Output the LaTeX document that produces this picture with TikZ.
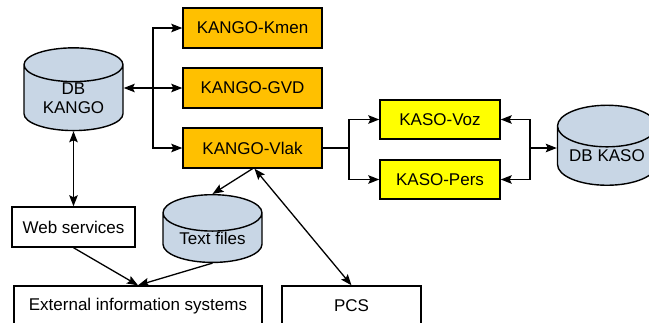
\documentclass[tikz,border=0pt]{standalone}
\usepackage{fontspec}
\setmainfont{Liberation Sans}
\usetikzlibrary{arrows.meta,shapes.geometric,positioning}
\definecolor{kangoorange}{RGB}{255,192,0}
\definecolor{kasoyellow}{RGB}{255,255,0}
\definecolor{dbblue}{RGB}{200,214,229}

\begin{document}
\begin{tikzpicture}
[x=1pt, y=-1pt, line width=1.3pt, font=\fontsize{17}{19.5}\selectfont,
>={Stealth[length=11pt,width=8.5pt,inset=2pt]},
kango/.style={rectangle, draw, fill=kangoorange, line width=1.4pt, inner sep=0pt, minimum width=139pt, minimum height=40pt},
kaso/.style={rectangle, draw, fill=kasoyellow, line width=1.4pt, inner sep=0pt, minimum width=120pt, minimum height=39pt},
plain/.style={rectangle, draw, fill=white, line width=1.4pt, inner sep=0pt, minimum height=40pt},
db/.style={cylinder, shape border rotate=90, draw, fill=dbblue, line width=1.4pt, inner sep=0pt, aspect=0.55, minimum width=99pt, align=center}]

\useasboundingbox (0,0) rectangle (649,322);

% KANGO applications
\node[kango] (kmen) at (252.5,28) {KANGO-Kmen};
\node[kango] (gvd) at (252.5,88) {KANGO-GVD};
\node[kango] (vlak) at (252.5,148) {KANGO-Vlak};

% databases
\node[db, minimum height=80pt] (dbkango) at (73.5,98) {DB\\KANGO};
\node[db, minimum height=59pt] (textfiles) at (212.5,238) {Text files};
\node[db, minimum height=80pt] (dbkaso) at (607,156) {DB KASO};

% KASO
\node[kaso] (kasovoz) at (440,119.5) {KASO-Voz};
\node[kaso] (kasopers) at (440,179.5) {KASO-Pers};

% other systems
\node[plain, minimum width=123pt] (websvc) at (73.5,227) {Web services};
\node[plain, minimum width=248pt] (extsys) at (138,306) {External information systems};
\node[plain, minimum width=139pt] (pcs) at (351.5,306) {PCS};

\coordinate (jl) at (153,88);
\coordinate (jr) at (349,148);
\coordinate (jk) at (530,148);

\draw[<->] (dbkango.east |- gvd) -- (gvd);
\draw[->] (jl) |- (kmen);
\draw[->] (jl) |- (vlak);
\draw[<->] (dbkango) -- (websvc);

\draw (vlak) -- (jr);
\draw[->] (jr) |- (kasovoz);
\draw[->] (jr) |- (kasopers);
\draw[->] (jk) |- (kasovoz);
\draw[->] (jk) |- (kasopers);
\draw[->] (jk) -- (jk -| dbkaso.west);

\draw[->] (vlak.south) -- (textfiles.north);
\draw[<->] ([xshift=2pt]vlak.south) -- (pcs.north);
\draw[->] (websvc.south) -- (extsys.north);
\draw[->] (textfiles.south) -- (extsys.north);
\end{tikzpicture}
\end{document}
